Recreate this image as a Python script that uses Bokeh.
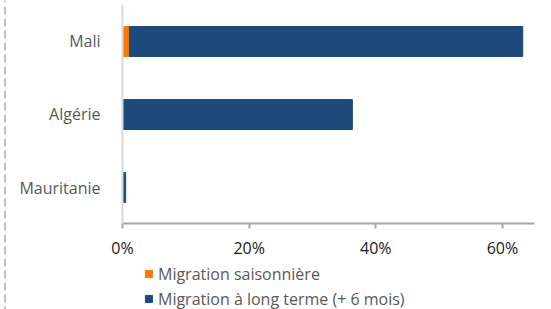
from bokeh.plotting import figure
from bokeh.models import ColumnDataSource, Range1d, FixedTicker, Legend, Span
from bokeh.embed import file_html
from bokeh.resources import INLINE

categories = ["Mali", "Algérie", "Mauritanie"]
seasonal = [1.1, 0.0, 0.0]
long_term = [62.1, 36.3, 0.5]
series_labels = ["Migration saisonnière", "Migration à long terme (+ 6 mois)"]
x_ticks = [0, 20, 40, 60]
x_tick_labels = ["0%", "20%", "40%", "60%"]

colors = ["#ff7700", "#1f4a7c"]
FONT = "Open Sans"

n = len(categories)
ypos = [n - 1 - i for i in range(n)]
src = ColumnDataSource(dict(y=ypos, cat=categories, saison=seasonal, long=long_term))

# axis positions in data units (axes drawn inside the frame)
x_axis_at = -0.493
y_axis_top = 2.507
x_axis_end = 65.05

p = figure(width=551, height=309, output_backend="svg", toolbar_location=None,
           x_range=Range1d(-19.263, 67.74), y_range=Range1d(-1.6712, 2.5616),
           min_border_left=0, min_border_right=0, min_border_top=0, min_border_bottom=0)

rs = p.hbar_stack(["saison", "long"], y="y", height=0.41, color=colors, source=src)

p.outline_line_color = None
p.xgrid.visible = False
p.ygrid.visible = False

xa = p.xaxis[0]
xa.fixed_location = x_axis_at
xa.bounds = (0, x_axis_end)
xa.ticker = FixedTicker(ticks=x_ticks)
xa.major_label_overrides = {t: l for t, l in zip(x_ticks, x_tick_labels)}
xa.axis_line_color = "#a6a6a6"
xa.axis_line_width = 2
xa.major_tick_line_color = "#a6a6a6"
xa.major_tick_line_width = 2
xa.major_tick_in = 0
xa.major_tick_out = 5
xa.minor_tick_line_color = None
xa.major_label_text_font = FONT
xa.major_label_text_font_size = "16px"
xa.major_label_text_color = "#1a1a1a"
xa.major_label_standoff = 9

ya = p.yaxis[0]
ya.fixed_location = 0
ya.bounds = (x_axis_at, y_axis_top)
ya.ticker = FixedTicker(ticks=ypos)
ya.major_label_overrides = {y: c for y, c in zip(ypos, categories)}
ya.axis_line_color = "#d9d9d9"
ya.axis_line_width = 2
ya.major_tick_line_color = None
ya.minor_tick_line_color = None
ya.major_label_text_font = FONT
ya.major_label_text_font_size = "16px"
ya.major_label_text_color = "#595959"
ya.major_label_standoff = 16

lg = Legend(items=[(lab, [r]) for lab, r in zip(series_labels, rs)])
lg.location = (144, -2)
lg.orientation = "vertical"
lg.margin = 0
lg.padding = 0
lg.spacing = 0
lg.label_height = 25
lg.glyph_height = 9
lg.glyph_width = 9
lg.label_standoff = 5
lg.border_line_color = None
lg.background_fill_alpha = 0
lg.label_text_font = FONT
lg.label_text_font_size = "16px"
lg.label_text_color = "#595959"
p.add_layout(lg, "center")

p.add_layout(Span(location=4.5, location_units="canvas", dimension="height",
                  line_color="#c0c0c0", line_width=2, line_dash="8 4",
                  line_dash_offset=6))

open("out.html", "w").write(file_html(p, INLINE))
